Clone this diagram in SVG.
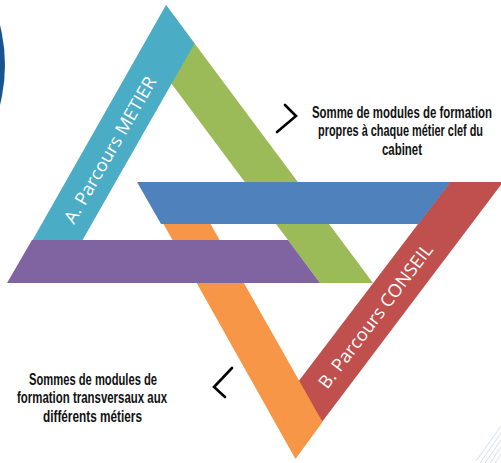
<svg xmlns="http://www.w3.org/2000/svg" width="501" height="463" viewBox="0 0 501 463">
<style>
.band-label{font-family:"Open Sans","Liberation Sans",sans-serif;font-size:18px;fill:#ffffff;text-anchor:middle}
.note{font-family:"Liberation Sans",Arial,sans-serif;font-weight:bold;font-size:17px;fill:#111111;text-anchor:middle}
.chev{fill:none;stroke:#000000;stroke-width:2.6;stroke-linecap:round;stroke-linejoin:miter}
.hatch{stroke:#c9d7e8;stroke-width:0.8}
</style>
<rect width="501" height="463" fill="#ffffff"/>
<g id="deco">
<circle cx="-157" cy="65" r="162" fill="#1a5592"/>
<g class="hatch">
<line x1="480" y1="463" x2="501" y2="433"/>
<line x1="485" y1="463" x2="501" y2="440"/>
<line x1="490" y1="463" x2="501" y2="447"/>
<line x1="495" y1="463" x2="501" y2="454"/>
<line x1="476" y1="461" x2="501" y2="426"/>
</g>
</g>
<g id="band-green"><polygon points="166,5 373,283 320,283 171,83" fill="#9bbb59"/></g>
<g id="band-teal"><polygon points="166,5 194.5,43.5 82,241 32,241" fill="#4bacc6"/></g>
<g id="band-red"><polygon points="450,182 503,182 322,422 298,382" fill="#c0504d"/></g>
<g id="band-orange"><polygon points="150,200 197,200 322.5,422 295.5,459" fill="#f79646"/></g>
<g id="band-blue"><polygon points="137,182 450.5,182 418.5,224 161,224" fill="#4f81bd"/></g>
<g id="band-purple"><polygon points="32,240 288,240 320,283 7,283" fill="#8064a2"/></g>
<g id="label-a"><text class="band-label" transform="translate(115.5,153) rotate(-60)" textLength="166" lengthAdjust="spacingAndGlyphs">A. Parcours METIER</text></g>
<g id="label-b"><text class="band-label" transform="translate(380.5,320) rotate(-52.8)" textLength="176" lengthAdjust="spacingAndGlyphs">B. Parcours CONSEIL</text></g>
<g id="note-right" transform="scale(0.68,1)">
<text class="note" x="591.2" y="118" textLength="264.7" lengthAdjust="spacingAndGlyphs">Somme de modules de formation</text>
<text class="note" x="589" y="136.5" textLength="242.6" lengthAdjust="spacingAndGlyphs">propres à chaque métier clef du</text>
<text class="note" x="591.2" y="155.5" textLength="58.8" lengthAdjust="spacingAndGlyphs">cabinet</text>
</g>
<g id="note-left" transform="scale(0.68,1)">
<text class="note" x="136.8" y="385" textLength="188.2" lengthAdjust="spacingAndGlyphs">Sommes de modules de</text>
<text class="note" x="135.3" y="403.5" textLength="220.6" lengthAdjust="spacingAndGlyphs">formation transversaux aux</text>
<text class="note" x="136" y="422" textLength="145.6" lengthAdjust="spacingAndGlyphs">différents métiers</text>
</g>
<g id="connectors">
<path class="chev" d="M285,105 L296,116 L277,132"/>
<path class="chev" d="M232,368 L214,387 L225,397"/>
</g>
</svg>
